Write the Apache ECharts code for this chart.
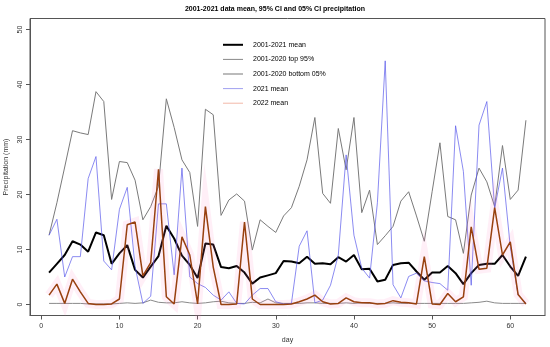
<!DOCTYPE html>
<html><head><meta charset="utf-8">
<script src="https://cdn.jsdelivr.net/npm/echarts@6/dist/echarts.min.js"></script>
<style>html,body{margin:0;padding:0;background:#fff}#c{width:550px;height:347px}</style>
</head><body><div id="c"></div>
<script>
const titleText = '2001-2021 data mean, 95% CI and 05% CI precipitation';
const xTicks = [0, 10, 20, 30, 40, 50, 60];
const yTicks = [0, 10, 20, 30, 40, 50];
const days = [1,2,3,4,5,6,7,8,9,10,11,12,13,14,15,16,17,18,19,20,21,22,23,24,25,26,27,28,29,30,31,32,33,34,35,36,37,38,39,40,41,42,43,44,45,46,47,48,49,50,51,52,53,54,55,56,57,58,59,60,61,62];
const mean = [5.8,7.4,9.0,11.5,10.9,9.6,13.1,12.6,7.4,9.3,10.8,6.3,4.9,6.9,8.8,14.3,12.0,8.9,7.2,4.8,11.1,10.9,6.8,6.6,7.0,5.8,3.8,4.9,5.3,5.7,7.9,7.8,7.5,8.7,7.4,7.5,7.3,8.6,7.8,9.0,6.4,6.5,4.2,4.5,7.2,7.5,7.6,6.0,4.5,5.8,5.8,7.0,5.7,3.7,5.7,7.2,7.4,7.4,9.0,6.9,5.2,8.7];
const top95 = [12.6,18.5,25.0,31.6,31.2,30.9,38.7,36.9,19.1,26.0,25.8,22.6,15.4,17.8,21.5,37.4,32.2,26.3,24.0,14.2,35.5,34.5,16.2,19.0,20.1,18.8,9.9,15.4,14.2,13.1,16.1,17.6,21.5,26.3,34.0,20.2,18.4,32.0,24.5,34.0,16.7,20.8,10.9,12.5,14.2,18.8,20.5,16.1,11.5,20.5,29.4,16.0,15.4,9.3,19.9,24.8,22.3,17.8,28.9,19.1,20.8,33.5];
const bottom05 = [0.2,0.2,0.2,0.2,0.2,0.1,0.1,0.1,0.1,0.2,0.3,0.2,0.3,0.8,0.4,0.3,0.3,0.5,0.3,0.2,0.3,0.5,0.6,0.3,0.2,0.2,0.4,0.3,1.0,0.3,0.2,0.2,0.2,0.3,0.3,0.2,0.2,0.2,0.3,0.2,0.3,0.2,0.2,0.2,0.3,0.2,0.2,0.2,0.2,0.2,0.2,0.2,0.2,0.2,0.3,0.4,0.6,0.3,0.2,0.2,0.2,0.2];
const mean2021 = [12.6,15.5,5.0,8.7,8.7,22.9,26.9,7.9,6.3,17.3,21.3,6.9,0.2,1.5,18.3,18.3,5.4,24.8,5.0,3.8,3.1,1.7,0.8,2.3,0.2,0.1,1.7,2.9,2.9,0.5,0.1,0.2,10.6,13.4,0.3,0.8,3.5,9.0,27.2,12.6,6.6,4.8,18.5,44.3,3.6,1.2,5.1,5.7,4.3,4.0,3.8,2.6,32.5,24.2,3.5,32.6,36.9,17.5,24.8,10.5,1.7,0.3];
const mean2022 = [1.7,3.7,0.2,4.6,2.3,0.2,0.0,0.0,0.1,1.0,14.5,15.0,5.2,7.6,24.6,1.4,0.1,12.3,9.0,0.1,17.8,6.8,0.0,0.0,0.1,15.0,1.0,0.0,0.0,0.0,0.0,0.1,0.5,1.0,1.7,0.5,0.1,0.2,1.2,0.5,0.3,0.3,0.1,0.2,0.7,0.4,0.3,0.1,8.7,0.1,0.0,2.0,0.5,1.4,14.1,6.4,6.6,17.6,9.0,11.4,1.8,0.1];
const names = ['2001-2021 mean', '2001-2020 top 95%', '2001-2020 bottom 05%', '2021 mean', '2022 mean'];

const pairs = arr => days.map((d, i) => [d, arr[i]]);
const FONT = 'Liberation Sans';
const chart = echarts.init(document.getElementById('c'), null, {renderer: 'canvas'});
chart.setOption({
  animation: false,
  backgroundColor: '#fff',
  textStyle: {fontFamily: FONT},
  title: {
    text: titleText, left: 'center', top: 1,
    textStyle: {fontFamily: FONT, fontSize: 7, fontWeight: 'bold', color: '#000'}
  },
  grid: {left: 30, right: 5, top: 18.5, bottom: 31.5, show: true, borderColor: '#555', borderWidth: 1,
         containLabel: false, outerBoundsMode: 'none'},
  legend: {
    orient: 'vertical', left: 218, top: 35.8, itemWidth: 20, itemHeight: 8, itemGap: 6.6,
    symbolKeepAspect: true,
    textStyle: {fontFamily: FONT, fontSize: 7, color: '#000', lineHeight: 8, padding: [0, 0, 0, 5]},
    data: [
      {name: names[0], icon: 'path://M0,0H20V2H0Z', itemStyle: {color: '#000'}},
      {name: names[1], icon: 'path://M0,0H20V1H0Z', itemStyle: {color: '#888'}},
      {name: names[2], icon: 'path://M0,0H20V1H0Z', itemStyle: {color: '#777'}},
      {name: names[3], icon: 'path://M0,0H20V1H0Z', itemStyle: {color: '#a0a0f0'}},
      {name: names[4], icon: 'path://M0,0H20V1H0Z', itemStyle: {color: '#f2b8a8'}}
    ]
  },
  xAxis: {
    type: 'value', min: -1.44, max: 64.44,
    name: 'day', nameLocation: 'middle', nameGap: 21,
    nameTextStyle: {fontFamily: FONT, fontSize: 7, color: '#333'},
    axisLine: {show: true, onZero: false, lineStyle: {color: '#555'}},
    axisTick: {show: true, length: 4, customValues: xTicks, lineStyle: {color: '#555'}},
    axisLabel: {customValues: xTicks, fontFamily: FONT, fontSize: 7, color: '#333', margin: 7},
    splitLine: {show: false}
  },
  yAxis: {
    type: 'value', min: -2, max: 52,
    name: 'Precipitation (mm)', nameLocation: 'middle', nameGap: 19, nameRotate: 90,
    nameTextStyle: {fontFamily: FONT, fontSize: 7, color: '#333'},
    axisLine: {show: true, onZero: false, lineStyle: {color: '#555'}},
    axisTick: {show: true, length: 4, customValues: yTicks, lineStyle: {color: '#555'}},
    axisLabel: {customValues: yTicks, rotate: 90, fontFamily: FONT, fontSize: 7, color: '#333', margin: 6},
    splitLine: {show: false}
  },
  series: [
    {name: names[1], type: 'line', data: pairs(top95), showSymbol: false, symbol: 'none', color: '#888',
     lineStyle: {color: '#7a7a7a', width: 1}},
    {name: names[2], type: 'line', data: pairs(bottom05), showSymbol: false, symbol: 'none', color: '#777',
     lineStyle: {color: '#8a8a8a', width: 1}},
    {name: names[0], type: 'line', data: pairs(mean), showSymbol: false, symbol: 'none', color: '#000',
     lineStyle: {color: '#000', width: 2}},
    {name: names[3], type: 'line', data: pairs(mean2021), showSymbol: false, symbol: 'none', color: '#a0a0f0',
     lineStyle: {color: 'rgba(90,90,235,0.7)', width: 1}},
    {name: '2022 band', type: 'line', data: pairs(mean2022), showSymbol: false, symbol: 'none',
     lineStyle: {color: 'rgba(255,120,190,0.12)', width: 9, join: 'miter', cap: 'butt'}},
    {name: names[4], type: 'line', data: pairs(mean2022), showSymbol: false, symbol: 'none', color: '#f2b8a8',
     lineStyle: {color: '#98400f', width: 1.5}}
  ]
});
</script>
</body></html>
